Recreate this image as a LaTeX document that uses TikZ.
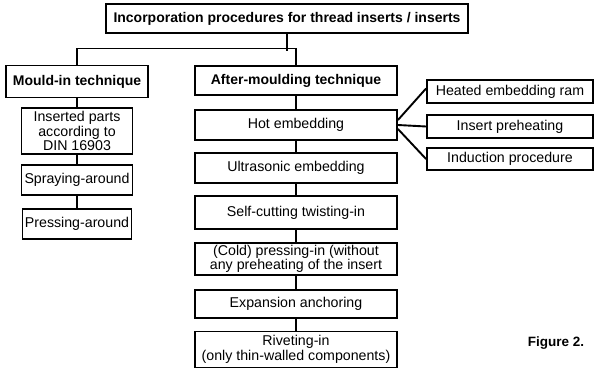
\documentclass[tikz,border=0pt]{standalone}
\usepackage{fontspec}
\setmainfont{Liberation Sans}
\tikzset{
  box/.style={draw, line width=1.9pt, align=center, inner sep=1pt,
    font=\fontsize{14.2}{14.5}\selectfont},
  headbox/.style={box, font=\fontsize{14}{14.5}\selectfont\bfseries},
  link/.style={line width=1.9pt}
}

\begin{document}
\begin{tikzpicture}[x=1pt, y=-1pt]

	\useasboundingbox (0,0) rectangle (594,369);

	\node[headbox, minimum width=362pt, minimum height=29pt] (top) at (287,18.5)
        {Incorporation procedures for thread inserts / inserts};

	% left branch
	\node[headbox, minimum width=142pt, minimum height=32pt] (mould) at (77,81.5)
        {Mould-in technique};
	\node[box, minimum width=111pt, minimum height=46pt] (parts) at (77,131)
        {Inserted parts\\according to\\DIN 16903};
	\node[box, minimum width=111pt, minimum height=30pt] (spray) at (77,180)
        {Spraying-around};
	\node[box, minimum width=109pt, minimum height=30pt] (press) at (77,224)
        {Pressing-around};

	% right branch
	\node[headbox, minimum width=202pt, minimum height=29pt] (after) at (296,80.5)
        {After-moulding technique};
	\node[box, minimum width=202pt, minimum height=30pt] (hot) at (296,125)
        {Hot embedding};
	\node[box, minimum width=202pt, minimum height=30pt] (ultra) at (296,168)
        {Ultrasonic embedding};
	\node[box, minimum width=202pt, minimum height=33pt] (selfcut) at (296,212.5)
        {Self-cutting twisting-in};
	\node[box, minimum width=202pt, minimum height=32pt] (cold) at (296,259)
        {(Cold) pressing-in (without\\any preheating of the insert};
	\node[box, minimum width=202pt, minimum height=28pt] (expan) at (296,304)
        {Expansion anchoring};
	\node[box, minimum width=202pt, minimum height=36pt] (rivet) at (296,349.5)
        {Riveting-in\\(only thin-walled components)};

	% hot embedding variants
	\node[box, minimum width=166pt, minimum height=23pt] (ram) at (510,91.5)
        {Heated embedding ram};
	\node[box, minimum width=166pt, minimum height=23pt] (preheat) at (510,126.5)
        {Insert preheating};
	\node[box, minimum width=166pt, minimum height=22pt] (induct) at (510,159)
        {Induction procedure};

	\node[font=\fontsize{13.5}{14}\selectfont\bfseries] (fig) at (556,343) {Figure 2.};

	\draw[link] (top.south) -- ++(0,17);
	\draw[link] (mould.north) -- ++(0,-16) -| (after.north);

	\foreach \a/\b in {mould/parts, parts/spray, spray/press,
        after/hot, hot/ultra, ultra/selfcut, selfcut/cold, cold/expan, expan/rivet}
	  \draw[link] (\a.south) -- (\b.north);

	\draw[link] ([yshift=5pt]hot.east) -- ([yshift=3pt]ram.west);
	\draw[link] (hot.east) -- (preheat.west);
	\draw[link] ([yshift=-4pt]hot.east) -- (induct.west);
      \end{tikzpicture}
\end{document}
